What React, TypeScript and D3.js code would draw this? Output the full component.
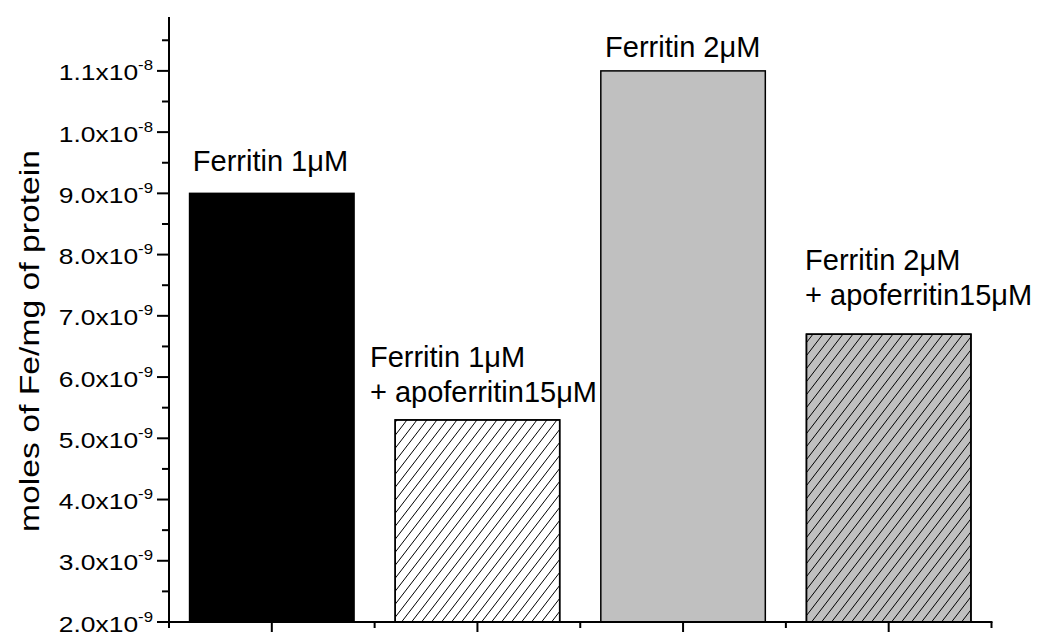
import React from "react";
import * as d3 from "d3";

const categories = ["Ferritin 1μM", "Ferritin 1μM + apoferritin15μM", "Ferritin 2μM", "Ferritin 2μM + apoferritin15μM"];
const values = [9.0e-9, 5.3e-9, 1.1e-8, 6.7e-9];
const labelLines = [
  ["Ferritin 1μM"],
  ["Ferritin 1μM", "+ apoferritin15μM"],
  ["Ferritin 2μM"],
  ["Ferritin 2μM", "+ apoferritin15μM"],
];
const yTickMantissa = ["2.0", "3.0", "4.0", "5.0", "6.0", "7.0", "8.0", "9.0", "1.0", "1.1"];
const yTickExponent = ["-9", "-9", "-9", "-9", "-9", "-9", "-9", "-9", "-8", "-8"];
const yTickValues = [2e-9, 3e-9, 4e-9, 5e-9, 6e-9, 7e-9, 8e-9, 9e-9, 1e-8, 1.1e-8];
const yTitle = "moles of Fe/mg of protein";

// styling / layout (not data)
const fills = ["#000000", "#ffffff", "#c0c0c0", "#c0c0c0"];
const hatched = [false, true, false, true];
const labelDx = [-79, -107.5, -78, -83.6];
const labelDy = [-22.5, -53.2, -14.2, -64.5];
const lineGap = 35;

const W = 1039;
const H = 632;
const FONT = "'Liberation Sans', Arial, Helvetica, sans-serif";

export default function App() {
  const x = d3.scaleLinear().domain([0.5, 4.5]).range([169, 991.5]);
  const y = d3.scaleLinear().domain([2e-9, 1.188e-8]).range([622, 17]);
  const bw = x(1.4) - x(0.6);
  const minorY = d3.range(2.5, 11.6, 1).map((v) => v * 1e-9);
  const minorX = [0.5, 1.5, 2.5, 3.5, 4.5];
  const majorX = [1, 2, 3, 4];

  return (
    <svg
      width={W}
      height={H}
      style={{ position: "absolute", left: 0, top: 0, background: "#fff" }}
      fontFamily={FONT}
    >
      <defs>
        <pattern id="hatch" patternUnits="userSpaceOnUse" width={10} height={13}>
          <line x1={-10} y1={13} x2={0} y2={0} stroke="#000" strokeWidth={1} />
          <line x1={0} y1={13} x2={10} y2={0} stroke="#000" strokeWidth={1} />
          <line x1={10} y1={13} x2={20} y2={0} stroke="#000" strokeWidth={1} />
        </pattern>
      </defs>
      {values.map((v, i) => {
        const cx = x(i + 1);
        return (
          <g key={categories[i]}>
            <rect x={cx - bw / 2} y={y(v)} width={bw} height={y(2e-9) - y(v)} fill={fills[i]} stroke="#000" strokeWidth={1.5} />
            {hatched[i] && (
              <rect x={cx - bw / 2} y={y(v)} width={bw} height={y(2e-9) - y(v)} fill="url(#hatch)" stroke="#000" strokeWidth={1.5} />
            )}
            <text x={cx + labelDx[i]} y={y(v) + labelDy[i]} fontSize={29} fill="#000">
              {labelLines[i].map((ln, j) => (
                <tspan key={j} x={cx + labelDx[i]} dy={j === 0 ? 0 : lineGap}>
                  {ln}
                </tspan>
              ))}
            </text>
          </g>
        );
      })}
      {/* axes */}
      <line x1={x(0.5)} y1={y.range()[1]} x2={x(0.5)} y2={y(2e-9)} stroke="#000" strokeWidth={2} />
      <line x1={x(0.5) - 1} y1={y(2e-9)} x2={x(4.5) + 1} y2={y(2e-9)} stroke="#000" strokeWidth={2} />
      {yTickValues.map((v, i) => (
        <g key={"yt" + i}>
          <line x1={x(0.5) - 12} x2={x(0.5)} y1={y(v)} y2={y(v)} stroke="#000" strokeWidth={2} />
          <g transform={`translate(153, ${y(v) + 9.5}) scale(1.2, 1)`}>
            <text x={0} y={0} textAnchor="end" fontSize={22} fill="#000">
              {yTickMantissa[i]}x10
              <tspan dy={-10} fontSize={14}>{yTickExponent[i]}</tspan>
            </text>
          </g>
        </g>
      ))}
      {minorY.map((v, i) => (
        <line key={"ym" + i} x1={x(0.5) - 7} x2={x(0.5)} y1={y(v)} y2={y(v)} stroke="#000" strokeWidth={2} />
      ))}
      {majorX.map((v) => (
        <line key={"xt" + v} x1={x(v)} x2={x(v)} y1={y(2e-9)} y2={y(2e-9) + 10} stroke="#000" strokeWidth={2} />
      ))}
      {minorX.map((v) => (
        <line key={"xm" + v} x1={x(v)} x2={x(v)} y1={y(2e-9)} y2={y(2e-9) + 6} stroke="#000" strokeWidth={2} />
      ))}
      <text
        transform={`translate(38.5, 341) rotate(-90)`}
        textAnchor="middle"
        fontSize={27.5}
        textLength={382}
        lengthAdjust="spacingAndGlyphs"
        fill="#000"
      >
        {yTitle}
      </text>
    </svg>
  );
}
